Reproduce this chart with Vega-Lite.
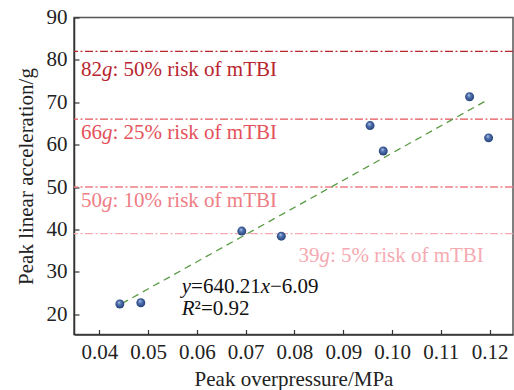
{
  "$schema": "https://vega.github.io/schema/vega-lite/v6.json",
  "width": 439,
  "height": 317,
  "autosize": {"type": "none"},
  "padding": {"left": 74, "top": 17.5, "right": 0.5, "bottom": 55.5},
  "background": "white",
  "config": {
    "view": {"stroke": "#555555", "strokeWidth": 1.5},
    "font": "Liberation Serif",
    "axis": {
      "grid": false,
      "domainColor": "#333333",
      "domainWidth": 1.5,
      "tickColor": "#333333",
      "tickWidth": 1.2,
      "tickSize": -5,
      "labelFont": "Liberation Serif",
      "labelFontSize": 21,
      "labelColor": "#222222",
      "titleFont": "Liberation Serif",
      "titleFontSize": 21,
      "titleFontWeight": "normal",
      "titleColor": "#222222"
    }
  },
  "datasets": {
    "pts": [
      {"p": 0.0442, "a": 22.4},
      {"p": 0.0485, "a": 22.7},
      {"p": 0.0692, "a": 39.6},
      {"p": 0.0773, "a": 38.4},
      {"p": 0.0955, "a": 64.5},
      {"p": 0.0982, "a": 58.5},
      {"p": 0.1159, "a": 71.3},
      {"p": 0.1198, "a": 61.6}
    ],
    "fit": [
      {"p": 0.0446, "a": 22.5},
      {"p": 0.1195, "a": 70.5}
    ],
    "th": [
      {"v": 82, "n": "82", "r": ": 50% risk of mTBI"},
      {"v": 66, "n": "66", "r": ": 25% risk of mTBI"},
      {"v": 50, "n": "50", "r": ": 10% risk of mTBI"},
      {"v": 39, "n": "39", "r": ": 5% risk of mTBI"}
    ]
  },
  "layer": [
    {
      "data": {"name": "th"},
      "mark": {"type": "rule", "strokeWidth": 1.3, "strokeDash": [8, 2.5, 2, 2.5]},
      "encoding": {
        "y": {
          "field": "v", "type": "quantitative",
          "scale": {"domain": [15.2, 90], "nice": false, "zero": false},
          "axis": {"values": [20, 30, 40, 50, 60, 70, 80, 90], "title": "Peak linear acceleration/g", "labelPadding": 12, "titlePadding": 10}
        },
        "color": {
          "field": "v", "type": "nominal",
          "scale": {"domain": [82, 66, 50, 39], "range": ["#b8262e", "#e4515a", "#ef7d84", "#f5aab1"]},
          "legend": null
        }
      }
    },
    {
      "data": {"name": "fit"},
      "mark": {"type": "line", "color": "#5a9a45", "strokeWidth": 1.3, "strokeDash": [7, 5]},
      "encoding": {
        "x": {
          "field": "p", "type": "quantitative",
          "scale": {"domain": [0.0348, 0.1248], "nice": false, "zero": false},
          "axis": {"values": [0.04, 0.05, 0.06, 0.07, 0.08, 0.09, 0.1, 0.11, 0.12], "format": ".2f", "title": "Peak overpressure/MPa", "labelPadding": 12, "titlePadding": 6}
        },
        "y": {"field": "a", "type": "quantitative"}
      }
    },
    {
      "data": {"name": "pts"},
      "mark": {
        "type": "circle", "size": 80, "opacity": 1, "strokeWidth": 0,
        "fill": {
          "gradient": "radial",
          "x1": 0.4, "y1": 0.3, "r1": 0,
          "x2": 0.5, "y2": 0.5, "r2": 0.55,
          "stops": [
            {"offset": 0, "color": "#c9d8f0"},
            {"offset": 0.35, "color": "#5577b5"},
            {"offset": 1, "color": "#1f3a70"}
          ]
        }
      },
      "encoding": {
        "x": {"field": "p", "type": "quantitative"},
        "y": {"field": "a", "type": "quantitative"}
      }
    },
    {
      "data": {"name": "th"},
      "transform": [{"filter": "datum.v == 82"}],
      "encoding": {
        "x": {"datum": 0.0348, "type": "quantitative"},
        "y": {"field": "v", "type": "quantitative"},
        "color": {"field": "v", "type": "nominal"}
      },
      "layer": [
        {"mark": {"type": "text", "align": "left", "baseline": "alphabetic", "fontSize": 21, "dx": 7, "dy": 24.5}, "encoding": {"text": {"field": "n"}}},
        {"mark": {"type": "text", "align": "left", "baseline": "alphabetic", "fontSize": 21, "fontStyle": "italic", "dx": 28, "dy": 24.5}, "encoding": {"text": {"value": "g"}}},
        {"mark": {"type": "text", "align": "left", "baseline": "alphabetic", "fontSize": 21, "dx": 38.5, "dy": 24.5}, "encoding": {"text": {"field": "r"}}}
      ]
    },
    {
      "data": {"name": "th"},
      "transform": [{"filter": "datum.v == 66 || datum.v == 50"}],
      "encoding": {
        "x": {"datum": 0.0348, "type": "quantitative"},
        "y": {"field": "v", "type": "quantitative"},
        "color": {"field": "v", "type": "nominal"}
      },
      "layer": [
        {"mark": {"type": "text", "align": "left", "baseline": "alphabetic", "fontSize": 21, "dx": 7, "dy": 19.5}, "encoding": {"text": {"field": "n"}}},
        {"mark": {"type": "text", "align": "left", "baseline": "alphabetic", "fontSize": 21, "fontStyle": "italic", "dx": 28, "dy": 19.5}, "encoding": {"text": {"value": "g"}}},
        {"mark": {"type": "text", "align": "left", "baseline": "alphabetic", "fontSize": 21, "dx": 38.5, "dy": 19.5}, "encoding": {"text": {"field": "r"}}}
      ]
    },
    {
      "data": {"name": "th"},
      "transform": [{"filter": "datum.v == 39"}],
      "encoding": {
        "x": {"datum": 0.0808, "type": "quantitative"},
        "y": {"field": "v", "type": "quantitative"},
        "color": {"field": "v", "type": "nominal"}
      },
      "layer": [
        {"mark": {"type": "text", "align": "left", "baseline": "alphabetic", "fontSize": 21, "dx": 0, "dy": 28}, "encoding": {"text": {"field": "n"}}},
        {"mark": {"type": "text", "align": "left", "baseline": "alphabetic", "fontSize": 21, "fontStyle": "italic", "dx": 21, "dy": 28}, "encoding": {"text": {"value": "g"}}},
        {"mark": {"type": "text", "align": "left", "baseline": "alphabetic", "fontSize": 21, "dx": 31.5, "dy": 28}, "encoding": {"text": {"field": "r"}}}
      ]
    },
    {
      "data": {"values": [{}]},
      "encoding": {
        "x": {"datum": 0.0569, "type": "quantitative"},
        "y": {"datum": 24.9, "type": "quantitative"}
      },
      "layer": [
        {"mark": {"type": "text", "align": "left", "baseline": "alphabetic", "fontSize": 21, "fontStyle": "italic", "color": "#111111", "dx": 0}, "encoding": {"text": {"value": "y"}}},
        {"mark": {"type": "text", "align": "left", "baseline": "alphabetic", "fontSize": 21, "color": "#111111", "dx": 9.3}, "encoding": {"text": {"value": "=640.21"}}},
        {"mark": {"type": "text", "align": "left", "baseline": "alphabetic", "fontSize": 21, "fontStyle": "italic", "color": "#111111", "dx": 78.9}, "encoding": {"text": {"value": "x"}}},
        {"mark": {"type": "text", "align": "left", "baseline": "alphabetic", "fontSize": 21, "color": "#111111", "dx": 88.2}, "encoding": {"text": {"value": "−6.09"}}},
        {"mark": {"type": "text", "align": "left", "baseline": "alphabetic", "fontSize": 21, "fontStyle": "italic", "color": "#111111", "dx": 0, "dy": 21.7}, "encoding": {"text": {"value": "R"}}},
        {"mark": {"type": "text", "align": "left", "baseline": "alphabetic", "fontSize": 21, "color": "#111111", "dx": 12.8, "dy": 21.7}, "encoding": {"text": {"value": "²=0.92"}}}
      ]
    }
  ]
}
